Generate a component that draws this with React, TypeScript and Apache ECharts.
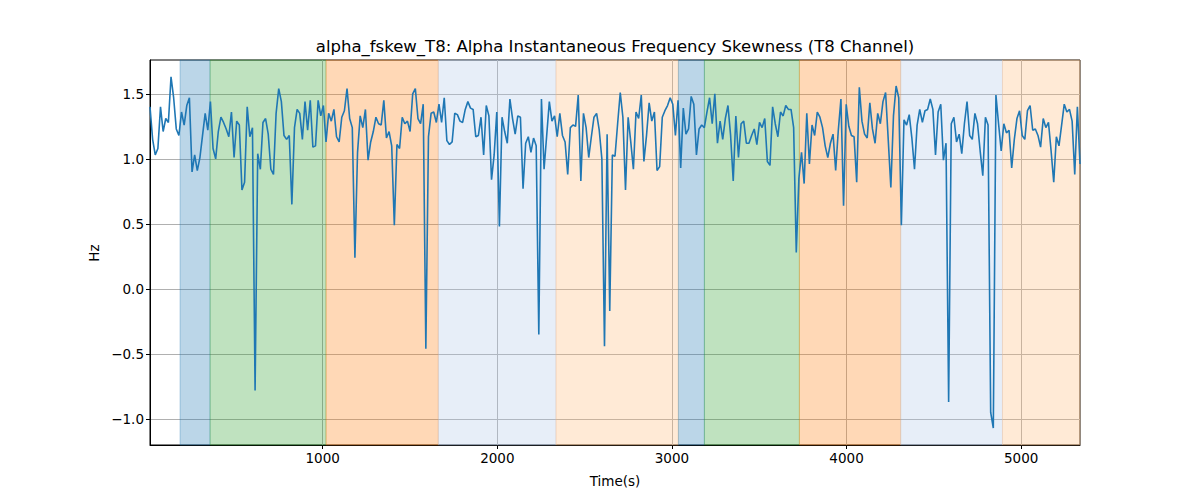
import React, { useEffect, useRef } from "react";
import * as echarts from "echarts";

const TITLE = "alpha_fskew_T8: Alpha Instantaneous Frequency Skewness (T8 Channel)";
const X_LABEL = "Time(s)";
const Y_LABEL = "Hz";

const T_START = 11;
const T_END = 5337;

const values: number[] = [
  1.40, 1.15, 1.03, 1.08, 1.40, 1.21, 1.31, 1.28, 1.63, 1.47, 1.23,
  1.18, 1.36, 1.26, 1.41, 1.47, 0.90, 1.03, 0.91, 1.01, 1.18,
  1.35, 1.22, 1.44, 1.08, 1.00, 1.21, 1.32, 1.28, 1.23, 1.17,
  1.36, 1.01, 1.29, 1.26, 0.76, 0.82, 1.40, 1.17, 1.24, -0.78,
  1.04, 0.92, 1.28, 1.31, 1.19, 0.92, 0.88, 1.35, 1.54, 1.44,
  1.18, 1.15, 1.18, 0.65, 1.24, 1.38, 1.35, 1.15, 1.44, 1.22,
  1.45, 1.09, 1.10, 1.45, 1.33, 1.41, 1.13, 1.35, 1.29, 1.38,
  1.17,
  1.13, 1.32, 1.37, 1.54, 1.31, 1.24, 0.24, 1.05, 1.33, 1.24,
  1.38, 0.99, 1.13, 1.21, 1.32, 1.27, 1.26, 1.45, 1.16, 1.21,
  1.10, 0.49, 1.11, 1.08, 1.32, 1.27, 1.29, 1.21, 1.50, 1.54,
  1.31, 1.27, 1.42, -0.46, 1.17, 1.35, 1.36, 1.28, 1.42, 1.28,
  1.47, 1.14, 1.11, 1.13, 1.35, 1.34, 1.29, 1.28, 1.38, 1.44,
  1.39, 1.38, 1.17, 1.18, 1.32, 1.03, 1.41, 1.33, 0.84, 1.03,
  1.36, 0.48, 1.32, 1.21, 1.12, 1.46, 1.31, 1.19, 1.33,
  1.32, 0.77, 1.12, 1.17, 1.05, 1.16, 1.10, -0.35, 1.46, 0.92,
  1.18, 1.44, 1.29, 1.33, 1.17, 1.35, 1.18, 1.13, 0.88, 1.24,
  1.26, 1.25, 1.49, 0.83, 1.35, 1.24, 1.01, 1.17, 1.32, 1.35,
  1.22, 1.00, -0.44, 1.19, -0.17, 1.03, 1.02, 1.27, 1.51, 1.32,
  0.76, 1.32, 1.13, 0.92, 1.36, 1.31, 1.49, 0.98, 1.18, 1.43,
  1.29, 1.36, 0.91, 0.94, 1.32, 1.37, 1.41, 1.47, 1.42, 1.18,
  1.45, 0.93, 1.39, 1.19, 1.23, 1.48, 1.42, 1.03, 1.23,
  1.26, 1.24, 1.36, 1.47, 1.27, 1.50, 1.12, 1.29, 1.15, 1.31,
  1.41, 1.18, 0.83, 1.33, 1.01, 1.27, 1.29, 1.12, 1.12, 1.18,
  1.23, 1.11, 1.28, 1.24, 1.31, 0.98, 0.95, 1.40, 1.27, 1.17,
  1.36, 1.33, 1.41, 1.38, 1.38, 1.24, 0.28, 0.85, 1.05, 0.81,
  1.35, 0.96, 1.26, 1.18, 1.36, 1.32, 1.24, 1.10, 1.01, 1.12,
  1.19, 0.91, 1.22, 1.46, 0.64, 1.42, 1.25, 1.18, 1.17, 0.82,
  1.55, 1.29, 1.19, 1.16, 1.43, 1.23, 1.12, 1.35,
  1.27, 1.44, 1.51, 1.15, 0.78, 1.33, 1.56, 1.47, 0.49, 1.30,
  1.26, 1.34, 1.16, 0.92, 1.26, 1.38, 1.28, 1.37, 1.38, 1.46,
  1.38, 1.03, 1.36, 1.42, 0.99, 1.12, -0.87, 1.27, 1.32, 1.13,
  1.19, 1.04, 1.27, 1.44, 1.18, 1.15, 1.35, 1.27, 1.06, 0.87,
  1.32, 1.26, -0.95, -1.07, 1.49, 1.27, 1.06, 1.27, 1.20, 1.22,
  0.93, 1.15, 1.31, 1.37, 1.18, 1.15, 1.37, 1.41, 1.22, 1.23,
  1.18, 1.09, 1.31, 1.24, 1.28, 1.06, 0.82, 1.17, 1.10, 1.26,
  1.42, 1.36, 1.38, 1.29, 0.88, 1.40, 0.96,
];

const bandStarts = [183, 355, 1019, 1662, 2336, 3037, 3186, 3730, 4310, 4893];
const bandEnds = [355, 1019, 1662, 2336, 3037, 3186, 3730, 4310, 4893, 5337];
const bandColors = [
  "rgba(31,119,180,0.3)",
  "rgba(44,160,44,0.3)",
  "rgba(255,127,14,0.3)",
  "rgba(174,199,232,0.3)",
  "rgba(255,187,120,0.3)",
  "rgba(31,119,180,0.3)",
  "rgba(44,160,44,0.3)",
  "rgba(255,127,14,0.3)",
  "rgba(174,199,232,0.3)",
  "rgba(255,187,120,0.3)",
];

const xTicks = [1000, 2000, 3000, 4000, 5000];
const yTicks = [-1.0, -0.5, 0.0, 0.5, 1.0, 1.5];

const FONT = "DejaVu Sans";

export default function App() {
  const ref = useRef<HTMLDivElement>(null);

  useEffect(() => {
    if (!ref.current) return;
    const chart = echarts.init(ref.current, null, { renderer: "svg" });
    const step = (T_END - T_START) / (values.length - 1);
    const data = values.map((v, i) => [T_START + i * step, v]);

    const markData = bandStarts.map((s, i) => [
      {
        xAxis: s,
        itemStyle: { color: bandColors[i], borderColor: bandColors[i], borderWidth: 1 },
      },
      { xAxis: bandEnds[i] },
    ]);

    chart.setOption({
      animation: false,
      backgroundColor: "#ffffff",
      grid: {
        left: 150,
        right: 120,
        top: 60,
        bottom: 55,
        show: true,
        borderColor: "#000000",
        borderWidth: 1,
        backgroundColor: "transparent",
      },
      xAxis: {
        type: "value",
        min: T_START,
        max: T_END,
        axisLine: { show: true, onZero: false, lineStyle: { color: "#000", width: 1 } },
        axisTick: {
          show: true,
          inside: false,
          length: 4,
          lineStyle: { color: "#000", width: 1 },
          customValues: xTicks,
        },
        axisLabel: {
          customValues: xTicks,
          margin: 6,
          color: "#000",
          fontFamily: FONT,
          fontSize: 13.5,
          formatter: (v: number) => String(Math.round(v)),
        },
        splitLine: { show: true, lineStyle: { color: "#b0b0b0", width: 1 } },
      },
      yAxis: {
        type: "value",
        min: -1.2,
        max: 1.76,
        axisLine: { show: true, onZero: false, lineStyle: { color: "#000", width: 1 } },
        axisTick: {
          show: true,
          inside: false,
          length: 4,
          lineStyle: { color: "#000", width: 1 },
          customValues: yTicks,
        },
        axisLabel: {
          customValues: yTicks,
          margin: 6,
          color: "#000",
          fontFamily: FONT,
          fontSize: 13.5,
          formatter: (v: number) => v.toFixed(1).replace("-", "\u2212"),
        },
        splitLine: { show: true, lineStyle: { color: "#b0b0b0", width: 1 } },
      },
      graphic: [
        {
          type: "text",
          x: 615,
          y: 46,
          style: {
            text: TITLE,
            fill: "#000",
            font: `16.5px "${FONT}"`,
            align: "center",
            verticalAlign: "middle",
          },
        },
        {
          type: "text",
          x: 615,
          y: 481,
          style: {
            text: X_LABEL,
            fill: "#000",
            font: `13.5px "${FONT}"`,
            align: "center",
            verticalAlign: "middle",
          },
        },
        {
          type: "text",
          x: 94,
          y: 253,
          rotation: Math.PI / 2,
          style: {
            text: Y_LABEL,
            fill: "#000",
            font: `13.5px "${FONT}"`,
            align: "center",
            verticalAlign: "middle",
          },
        },
      ],
      series: [
        {
          type: "line",
          data,
          showSymbol: false,
          symbol: "none",
          lineStyle: { color: "#1f77b4", width: 1.6 },
          itemStyle: { color: "#1f77b4" },
          z: 5,
          markArea: {
            silent: true,
            data: markData,
          },
        },
      ],
    });

    return () => {
      chart.dispose();
    };
  }, []);

  return (
    <div
      ref={ref}
      style={{ position: "fixed", left: 0, top: 0, width: 1200, height: 500 }}
    />
  );
}
